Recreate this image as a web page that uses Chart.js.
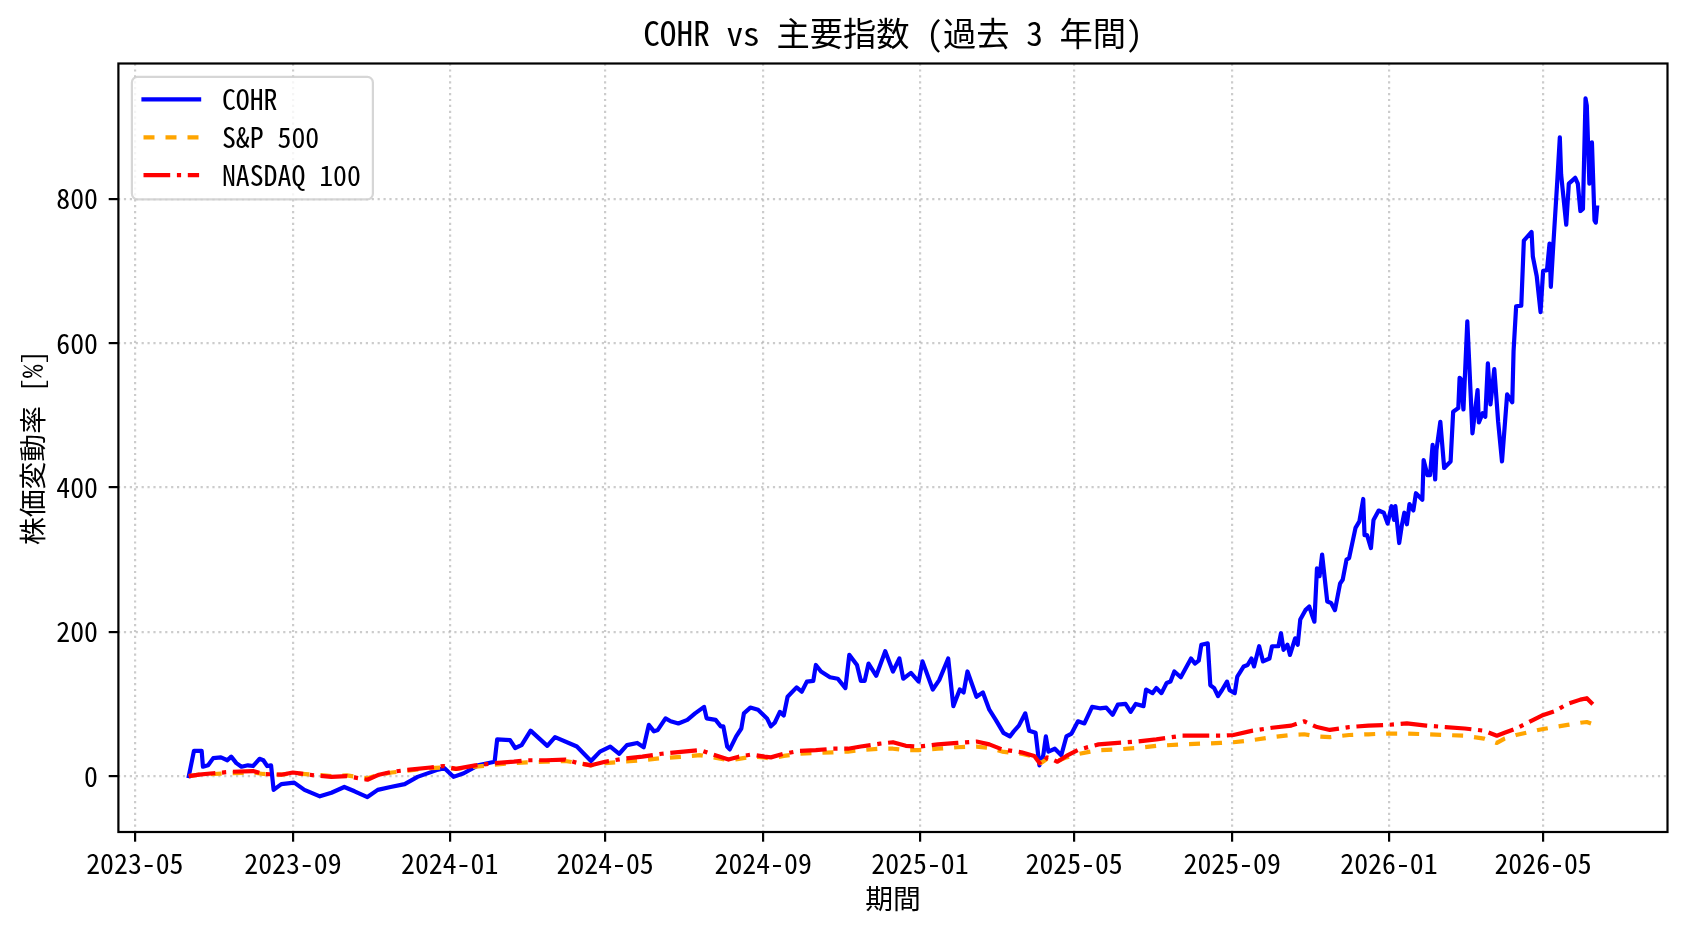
<!DOCTYPE html>
<html>
<head>
<meta charset="utf-8">
<title>COHR vs 主要指数</title>
<script src="https://cdn.jsdelivr.net/npm/chart.js"></script>
<style>
  html, body { margin: 0; padding: 0; background: #fff; }
  #chart { display: block; }
</style>
</head>
<body>
<canvas id="chart" width="1688" height="932"></canvas>
<script>
  // --- data ---
  const cohrDates = [
    '2023-06-12','2023-06-16','2023-06-22','2023-06-23','2023-06-27','2023-07-01','2023-07-07','2023-07-12','2023-07-15','2023-07-19',
    '2023-07-23','2023-07-28','2023-08-01','2023-08-06','2023-08-09','2023-08-12','2023-08-15','2023-08-17','2023-08-23','2023-09-02',
    '2023-09-10','2023-09-22','2023-10-01','2023-10-11','2023-10-19','2023-10-29','2023-11-06','2023-11-16','2023-11-27','2023-12-07',
    '2023-12-23','2023-12-28','2024-01-04','2024-01-12','2024-01-23','2024-02-05','2024-02-07','2024-02-17','2024-02-21','2024-02-26',
    '2024-03-04','2024-03-17','2024-03-23','2024-04-09','2024-04-20','2024-04-27','2024-05-05','2024-05-12','2024-05-18','2024-05-26',
    '2024-05-31','2024-06-04','2024-06-08','2024-06-11','2024-06-17','2024-06-21','2024-06-27','2024-07-04','2024-07-10','2024-07-17',
    '2024-07-19','2024-07-26','2024-07-30','2024-08-01','2024-08-04','2024-08-06','2024-08-11','2024-08-15','2024-08-17','2024-08-22',
    '2024-08-28','2024-09-04','2024-09-07','2024-09-10','2024-09-14','2024-09-17','2024-09-20','2024-09-27','2024-10-01','2024-10-05',
    '2024-10-10','2024-10-12','2024-10-16','2024-10-23','2024-10-29','2024-11-04','2024-11-07','2024-11-13','2024-11-16','2024-11-19',
    '2024-11-22','2024-11-28','2024-12-05','2024-12-11','2024-12-16','2024-12-19','2024-12-25','2024-12-31','2025-01-03','2025-01-11',
    '2025-01-16','2025-01-23','2025-01-27','2025-02-01','2025-02-04','2025-02-07','2025-02-14','2025-02-19','2025-02-24','2025-03-01',
    '2025-03-07','2025-03-12','2025-03-15','2025-03-19','2025-03-24','2025-03-27','2025-04-01','2025-04-04','2025-04-07','2025-04-09',
    '2025-04-11','2025-04-16','2025-04-21','2025-04-25','2025-04-29','2025-05-04','2025-05-09','2025-05-15','2025-05-21','2025-05-26',
    '2025-05-31','2025-06-04','2025-06-10','2025-06-14','2025-06-18','2025-06-24','2025-06-26','2025-07-01','2025-07-04','2025-07-08',
    '2025-07-12','2025-07-15','2025-07-18','2025-07-23','2025-07-31','2025-08-03','2025-08-06','2025-08-08','2025-08-13','2025-08-15',
    '2025-08-18','2025-08-21','2025-08-24','2025-08-28','2025-08-30','2025-09-03','2025-09-05','2025-09-10','2025-09-13','2025-09-16',
    '2025-09-18','2025-09-22','2025-09-25','2025-09-30','2025-10-02','2025-10-07','2025-10-09','2025-10-11','2025-10-14','2025-10-16',
    '2025-10-20','2025-10-22','2025-10-24','2025-10-28','2025-10-31','2025-11-02','2025-11-04','2025-11-06','2025-11-08','2025-11-10',
    '2025-11-14','2025-11-17','2025-11-20','2025-11-24','2025-11-26','2025-11-29','2025-12-01','2025-12-06','2025-12-09','2025-12-12',
    '2025-12-13','2025-12-15','2025-12-18','2025-12-20','2025-12-24','2025-12-28','2025-12-31','2026-01-03','2026-01-05','2026-01-06',
    '2026-01-09','2026-01-11','2026-01-13','2026-01-15','2026-01-17','2026-01-20','2026-01-22','2026-01-27','2026-01-28','2026-01-31',
    '2026-02-02','2026-02-04','2026-02-06','2026-02-07','2026-02-10','2026-02-13','2026-02-18','2026-02-20','2026-02-24','2026-02-25',
    '2026-02-26','2026-02-28','2026-03-03','2026-03-07','2026-03-11','2026-03-12','2026-03-15','2026-03-17','2026-03-19','2026-03-21',
    '2026-03-24','2026-03-27','2026-03-30','2026-04-03','2026-04-07','2026-04-08','2026-04-10','2026-04-14','2026-04-16','2026-04-22',
    '2026-04-23','2026-04-26','2026-04-29','2026-05-01','2026-05-04','2026-05-06','2026-05-07','2026-05-09','2026-05-12','2026-05-14',
    '2026-05-15','2026-05-19','2026-05-21','2026-05-26','2026-05-28','2026-05-30','2026-06-01','2026-06-03','2026-06-04','2026-06-06',
    '2026-06-08','2026-06-10','2026-06-11','2026-06-12'
  ];
  const cohr = [
    0, 35, 35, 13, 15, 25, 26, 22, 27, 18,
    13, 15, 14, 24, 22, 14, 15, -19, -11, -9,
    -19, -28, -23, -15, -21, -29, -19, -15, -11, -1,
    9, 11, -1, 4, 15, 20, 51, 50, 39, 43,
    63, 42, 54, 41, 21, 34, 41, 31, 43, 46,
    40, 71, 62, 64, 80, 76, 73, 78, 87, 96,
    80, 78, 69, 69, 41, 37, 55, 66, 87, 95,
    92, 80, 69, 74, 89, 84, 110, 123, 117, 131,
    132, 154, 145, 137, 135, 122, 168, 154, 132, 132,
    156, 139, 173, 145, 163, 135, 143, 131, 159, 120,
    133, 163, 97, 120, 116, 145, 110, 116, 92, 78,
    60, 55, 62, 70, 87, 63, 60, 15, 29, 55,
    34, 38, 29, 55, 59, 76, 73, 96, 94, 95,
    85, 99, 100, 89, 100, 97, 120, 115, 122, 115,
    129, 131, 145, 137, 163, 156, 160, 182, 184, 126,
    122, 111, 119, 131, 119, 115, 138, 152, 154, 163,
    152, 180, 159, 163, 180, 180, 198, 175, 182, 168,
    191, 182, 217, 230, 235, 224, 214, 288, 277, 307,
    242, 240, 230, 267, 272, 300, 302, 344, 353, 384,
    334, 334, 316, 355, 368, 365, 350, 374, 355, 374,
    323, 347, 365, 349, 377, 368, 392, 383, 438, 417,
    417, 459, 411, 452, 491, 427, 436, 505, 510, 552,
    550, 508, 630, 475, 535, 490, 503, 498, 572, 515,
    564, 491, 436, 529, 518, 589, 651, 652, 742, 754,
    720, 693, 643, 700, 701, 738, 678, 738, 824, 885,
    834, 764, 821, 829, 821, 783, 786, 939, 929, 821,
    878, 770, 767, 788
  ];

  const indexDates = [
    '2023-06-12','2023-06-20','2023-07-01','2023-07-15','2023-08-01','2023-08-09','2023-08-23','2023-09-01','2023-09-18','2023-10-01',
    '2023-10-13','2023-10-29','2023-11-07','2023-11-17','2023-12-01','2023-12-17','2023-12-27','2024-01-06','2024-01-21','2024-02-05',
    '2024-02-20','2024-03-01','2024-03-16','2024-03-31','2024-04-10','2024-04-20','2024-05-01','2024-05-15','2024-05-30','2024-06-14',
    '2024-07-01','2024-07-14','2024-07-24','2024-08-05','2024-08-13','2024-08-23','2024-09-02','2024-09-07','2024-09-17','2024-09-29',
    '2024-10-12','2024-10-25','2024-11-06','2024-11-16','2024-12-01','2024-12-11','2024-12-21','2024-12-31','2025-01-15','2025-01-30',
    '2025-02-14','2025-02-24','2025-03-06','2025-03-21','2025-03-31','2025-04-05','2025-04-10','2025-04-18','2025-04-25','2025-05-05',
    '2025-05-20','2025-06-04','2025-06-19','2025-07-04','2025-07-24','2025-08-08','2025-08-23','2025-09-02','2025-09-17','2025-10-02',
    '2025-10-17','2025-10-27','2025-11-06','2025-11-16','2025-12-01','2025-12-16','2025-12-31','2026-01-15','2026-01-30','2026-02-14',
    '2026-03-01','2026-03-16','2026-03-26','2026-04-01','2026-04-10','2026-04-20','2026-04-30','2026-05-10','2026-05-20','2026-05-30',
    '2026-06-04','2026-06-09','2026-06-12'
  ];
  const sp500 = [
    0, 2, 3, 4, 5, 3, 2, 4, 2, 0,
    1, -3, 2, 5, 8, 11, 12, 10, 13, 16,
    18, 19, 20, 21, 18, 15, 18, 20, 22, 25,
    27, 29, 26, 22, 24, 27, 26, 24, 28, 31,
    32, 33, 34, 36, 38, 38, 36, 36, 38, 40,
    41, 39, 34, 31, 27, 18, 24, 21, 26, 31,
    36, 37, 39, 42, 44, 45, 46, 47, 50, 54,
    57, 58, 55, 54, 57, 58, 59, 59, 58, 57,
    56, 52, 46, 52, 57, 61, 65, 68, 71, 74,
    75, 72, 68
  ];
  const ndx = [
    0, 2, 4, 6, 7, 3, 2, 5, 1, -1,
    0, -5, 2, 6, 9, 12, 14, 10, 15, 18,
    20, 22, 22, 23, 18, 15, 20, 24, 27, 31,
    34, 36, 30, 23, 27, 30, 27, 26, 31, 35,
    36, 38, 38, 41, 45, 47, 42, 41, 44, 46,
    48, 44, 37, 33, 28, 16, 26, 20, 28, 37,
    44, 46, 48, 51, 56, 56, 56, 57, 63, 67,
    70, 76, 68, 64, 68, 70, 71, 73, 70, 68,
    66, 63, 56, 60, 66, 75, 84, 90, 100, 106,
    108, 99, 95
  ];

  const tickMonths = ['2023-05','2023-09','2024-01','2024-05','2024-09','2025-01','2025-05','2025-09','2026-01','2026-05'];
  const yTicks = [0, 200, 400, 600, 800];

  // --- helpers ---
  const FONT = "'Noto Sans Mono CJK JP', 'Noto Sans CJK JP', 'DejaVu Sans', sans-serif";
  const toMs = s => Date.parse(s.length === 7 ? s + '-01T00:00:00Z' : s + 'T00:00:00Z');

  const cohrPoints = cohrDates.map((d, i) => ({ x: toMs(d), y: cohr[i] }));
  const spPoints = indexDates.map((d, i) => ({ x: toMs(d), y: sp500[i] }));
  const ndxPoints = indexDates.map((d, i) => ({ x: toMs(d), y: ndx[i] }));

  // matplotlib-like 5% autoscale margins
  const allX = cohrDates.concat(indexDates).map(toMs);
  const xLo = Math.min(...allX), xHi = Math.max(...allX), xPad = (xHi - xLo) * 0.05;
  const allY = cohr.concat(sp500, ndx);
  const yLo = Math.min(...allY), yHi = Math.max(...allY), yPad = (yHi - yLo) * 0.05;

  Chart.defaults.font.family = FONT;
  Chart.defaults.color = '#000';

  const framePlugin = {
    id: 'frame',
    afterDatasetsDraw(chart) {
      const { ctx, chartArea: a } = chart;
      ctx.save();
      ctx.strokeStyle = '#000';
      ctx.lineWidth = 2.2;
      ctx.strokeRect(a.left, a.top, a.right - a.left, a.bottom - a.top);
      ctx.restore();
    }
  };

  const boxLegend = {
    id: 'boxLegend',
    afterDraw(chart) {
      const { ctx, chartArea: a } = chart;
      const x0 = a.left + 13.5, y0 = a.top + 13.3, w = 241, h = 122.5, r = 5.6;
      ctx.save();
      ctx.beginPath();
      ctx.roundRect(x0, y0, w, h, r);
      ctx.fillStyle = 'rgba(255,255,255,0.8)';
      ctx.fill();
      ctx.lineWidth = 2.2;
      ctx.strokeStyle = 'rgba(204,204,204,0.8)';
      ctx.stroke();
      chart.data.datasets.forEach((ds, i) => {
        const cy = y0 + 22.6 + i * 37.9;
        ctx.beginPath();
        ctx.setLineDash(ds.borderDash || []);
        ctx.lineCap = ds.borderCapStyle || 'butt';
        ctx.strokeStyle = ds.borderColor;
        ctx.lineWidth = ds.borderWidth;
        ctx.moveTo(x0 + 11.6, cy);
        ctx.lineTo(x0 + 67.2, cy);
        ctx.stroke();
        ctx.setLineDash([]);
        ctx.fillStyle = '#000';
        ctx.font = '27.8px ' + FONT;
        ctx.textBaseline = 'middle';
        ctx.textAlign = 'left';
        ctx.fillText(ds.label, x0 + 90, cy);
      });
      ctx.restore();
    }
  };

  const gridColor = 'rgba(176,176,176,0.65)';

  new Chart(document.getElementById('chart'), {
    type: 'line',
    data: {
      datasets: [
        { label: 'COHR', data: cohrPoints, borderColor: 'blue', borderWidth: 4.2,
          borderCapStyle: 'square', borderJoinStyle: 'round', pointRadius: 0, order: 3 },
        { label: 'S&P 500', data: spPoints, borderColor: 'orange', borderWidth: 4.2,
          borderDash: [11, 11], borderCapStyle: 'butt', borderJoinStyle: 'round', pointRadius: 0, order: 2 },
        { label: 'NASDAQ 100', data: ndxPoints, borderColor: 'red', borderWidth: 4.2,
          borderDash: [26.7, 6.7, 4.2, 6.7], borderCapStyle: 'butt', borderJoinStyle: 'round', pointRadius: 0, order: 1 }
      ]
    },
    options: {
      responsive: false,
      animation: false,
      devicePixelRatio: 1,
      parsing: false,
      layout: { padding: { left: 0, right: 20.5, top: 0, bottom: 0 } },
      plugins: {
        legend: { display: false },
        tooltip: { enabled: false },
        title: {
          display: true,
          fullSize: false,
          text: 'COHR vs 主要指数 (過去 3 年間)',
          color: '#000',
          font: { size: 33.3, weight: 'normal', lineHeight: 1 },
          padding: { top: 17, bottom: 13.2 }
        }
      },
      scales: {
        x: {
          type: 'linear',
          min: xLo - xPad,
          max: xHi + xPad,
          afterBuildTicks: s => { s.ticks = tickMonths.map(m => ({ value: toMs(m) })); },
          afterFit: s => { s.height = 100; },
          ticks: {
            autoSkip: false, maxRotation: 0, padding: 4.6,
            font: { size: 27.8 }, color: '#000',
            callback: (v, i) => tickMonths[i]
          },
          grid: { color: gridColor, lineWidth: 2.2, tickColor: '#000', tickWidth: 2.2, tickLength: 9.7 },
          border: { display: false, dash: [2.2, 3.7] },
          title: { display: true, text: '期間', color: '#000', font: { size: 27.8 }, padding: { top: 0, bottom: 17.3 } }
        },
        y: {
          type: 'linear',
          min: yLo - yPad,
          max: yHi + yPad,
          afterBuildTicks: s => { s.ticks = yTicks.map(v => ({ value: v })); },
          afterFit: s => { s.width = 118.4; },
          ticks: { padding: 10.7, font: { size: 27.8 }, color: '#000', callback: v => String(v) },
          grid: { color: gridColor, lineWidth: 2.2, tickColor: '#000', tickWidth: 2.2, tickLength: 9.7 },
          border: { display: false, dash: [2.2, 3.7] },
          title: { display: true, text: '株価変動率 [%]', color: '#000', font: { size: 27.8 }, padding: { top: 15.3, bottom: 0 } }
        }
      }
    },
    plugins: [framePlugin, boxLegend]
  });
</script>
</body>
</html>
